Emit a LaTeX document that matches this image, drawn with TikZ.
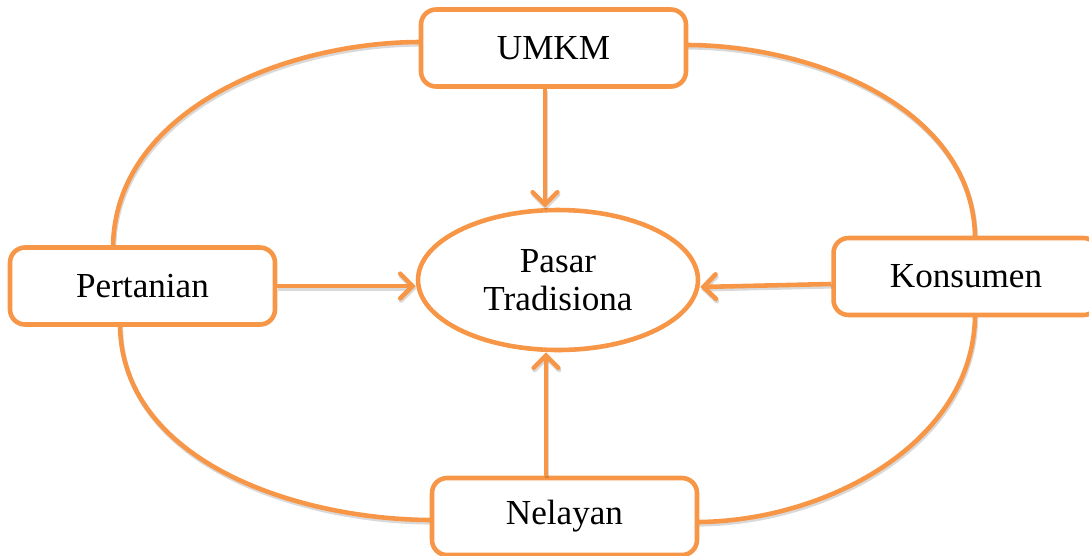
\documentclass[tikz,border=0pt]{standalone}
\usepackage{fontspec}
\setmainfont{Liberation Serif}
\usetikzlibrary{shapes.geometric,arrows.meta,shadows,calc}
\definecolor{org}{HTML}{F79646}
\tikzset{
  box/.style={draw=org, line width=2.6pt, rounded corners=0.3cm, fill=white,
    minimum width=5.3cm, minimum height=1.54cm,
    font=\fontsize{20}{22}\selectfont,
    drop shadow={opacity=0.25, shadow xshift=0.5pt, shadow yshift=-1.2pt}},
  oval/.style={draw=org, line width=2.6pt, ellipse, fill=white,
    minimum width=5.6cm, minimum height=2.8cm, align=center,
    font=\fontsize{20}{22}\selectfont,
    drop shadow={opacity=0.25, shadow xshift=0.5pt, shadow yshift=-1.2pt}},
  link/.style={draw=org, line width=2.6pt,
    preaction={draw=black, opacity=0.15, line width=2.6pt, transform canvas={shift={(0.5pt,-1.3pt)}}}},
  arr/.style={link, -{Straight Barb[length=7pt,width=14pt,line cap=round]}}
}
\begin{document}
\begin{tikzpicture}[x=0.02cm,y=-0.02cm]
\useasboundingbox (0,0) rectangle (1089,555);
\clip (0,0) rectangle (1089,555);
% curves
\coordinate (c1) at (421,42);
\coordinate (c2) at (113,249);
\coordinate (c3) at (686,45);
\coordinate (c4) at (975,239);
\coordinate (c5) at (120,323);
\coordinate (c6) at (433,520);
\coordinate (c7) at (696,522);
\coordinate (c8) at (975,314);
\draw[link] (c1) to[out=180,in=90,looseness=0.95] (c2);
\draw[link] (c3) to[out=0,in=90,looseness=0.95] (c4);
\draw[link] (c5) to[out=-90,in=180,looseness=0.95] (c6);
\draw[link] (c7) to[out=0,in=-90,looseness=0.95] (c8);
% nodes
\node[box] (U) at (553.5,48) {UMKM};
\node[box] (Pe) at (142.5,286) {Pertanian};
\node[box] (K) at (966,276.5) {Konsumen};
\node[box] (N) at (564.5,516.5) {Nelayan};
\node[oval] (P) at (558,280) {Pasar\\Tradisiona};
% arrows
\draw[arr] ([xshift=-0.17cm]U.south) -- ([xshift=-0.17cm]U.south |- P.north);
\draw[arr] (Pe.east) -- (Pe.east -| P.west);
\draw[arr] ([yshift=-0.15cm]K.west) -- ([yshift=-0.14cm]P.east);
\draw[arr] ([xshift=-0.37cm]N.north) -- ([xshift=-0.37cm]N.north |- P.south);
\end{tikzpicture}
\end{document}
